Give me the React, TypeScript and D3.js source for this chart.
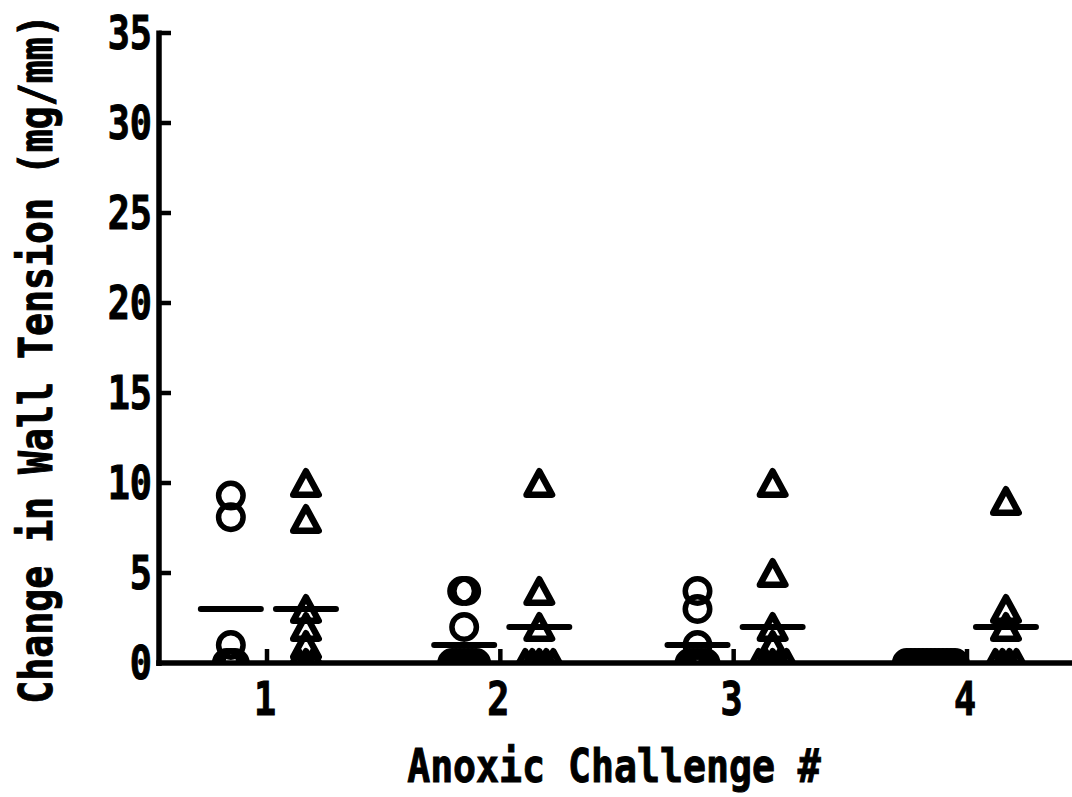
import React from "react";
import * as d3 from "d3";

const categories = [1, 2, 3, 4];
const circleValues = [
  [9.3, 8.1, 1, 0, 0, 0],
  [4, 4, 2, 0, 0, 0, 0, 0, 0, 0],
  [4, 3, 1, 0, 0, 0, 0, 0],
  [0, 0, 0, 0, 0, 0, 0, 0, 0, 0, 0, 0, 0],
];
const triangleValues = [
  [10, 8, 3, 2, 1, 0, 0, 0],
  [10, 4, 2, 0, 0, 0, 0, 0],
  [10, 5, 2, 1, 0, 0, 0, 0, 0],
  [9, 3, 2, 0, 0, 0, 0],
];
const circleMeans = [3, 1, 1, 0];
const triangleMeans = [3, 2, 2, 2];
const yTicks = [0, 5, 10, 15, 20, 25, 30, 35];
const xTitle = "Anoxic Challenge #";
const yTitle = "Change in Wall Tension (mg/mm)";

const W = 1072;
const H = 797;
const FONT = "'DejaVu Sans Mono', monospace";

function spread(values: number[], step: number): number[] {
  const counts = new Map<number, number>();
  values.forEach((v) => counts.set(v, (counts.get(v) || 0) + 1));
  const seen = new Map<number, number>();
  return values.map((v) => {
    const n = counts.get(v) || 1;
    const k = seen.get(v) || 0;
    seen.set(v, k + 1);
    return (k - (n - 1) / 2) * step;
  });
}

export default function App() {
  const x = d3.scaleLinear().domain([1, 4]).range([267, 967]);
  const y = d3.scaleLinear().domain([0, 35]).range([663, 33]);
  const axisX = 159;
  const y0 = y(0);
  const circOff = -0.155;
  const triOff = 0.167;
  const triW = 25.5;
  const triH = 23.5;
  const triPath = `M0,${-triH / 2}L${triW / 2},${triH / 2}L${-triW / 2},${triH / 2}Z`;
  const meanHalf = 30;
  const textProps = {
    fontFamily: FONT,
    fontWeight: "bold" as const,
    fontSize: 46,
    fill: "#000",
    stroke: "#000",
    strokeWidth: 1,
  };

  return (
    <svg
      width={W}
      height={H}
      style={{ position: "absolute", left: 0, top: 0, background: "#fff" }}
    >
      <defs>
        <clipPath id="plotClip">
          <rect x={0} y={0} width={W} height={y0} />
        </clipPath>
      </defs>
      <rect x={0} y={0} width={W} height={H} fill="#fff" />
      <g clipPath="url(#plotClip)">
        {categories.map((c, ci) => {
          const cx = x(c + circOff);
          const offs = spread(circleValues[ci], 4);
          return (
            <g key={"c" + ci}>
              {circleValues[ci].map((v, i) => (
                <circle
                  key={i}
                  cx={cx + offs[i]}
                  cy={y(v)}
                  r={12.25}
                  fill="none"
                  stroke="#000"
                  strokeWidth={5.5}
                />
              ))}
              <line
                x1={cx - meanHalf}
                x2={cx + meanHalf}
                y1={y(circleMeans[ci])}
                y2={y(circleMeans[ci])}
                stroke="#000"
                strokeWidth={6}
                strokeLinecap="round"
              />
            </g>
          );
        })}
        {categories.map((c, ci) => {
          const tx = x(c + triOff);
          const offs = spread(triangleValues[ci], 7);
          return (
            <g key={"t" + ci}>
              {triangleValues[ci].map((v, i) => (
                <path
                  key={i}
                  d={triPath}
                  transform={`translate(${tx + offs[i]},${y(v)})`}
                  fill="none"
                  stroke="#000"
                  strokeWidth={6.5}
                  strokeLinejoin="round"
                />
              ))}
              <line
                x1={tx - meanHalf}
                x2={tx + meanHalf}
                y1={y(triangleMeans[ci])}
                y2={y(triangleMeans[ci])}
                stroke="#000"
                strokeWidth={6}
                strokeLinecap="round"
              />
            </g>
          );
        })}
      </g>
      {/* axes */}
      <line x1={axisX} x2={axisX} y1={y(35) - 2.5} y2={y0 + 3} stroke="#000" strokeWidth={5.5} />
      <line x1={axisX - 2.75} x2={W + 5} y1={y0} y2={y0} stroke="#000" strokeWidth={5.5} />
      {yTicks.map((t) => (
        <g key={"yt" + t}>
          {t > 0 && (
            <line x1={axisX} x2={axisX + 12} y1={y(t)} y2={y(t)} stroke="#000" strokeWidth={4.5} />
          )}
          <text
            transform={`translate(152,${y(t) + 16}) scale(0.8,1)`}
            textAnchor="end"
            {...textProps}
          >
            {t}
          </text>
        </g>
      ))}
      {categories.map((c) => (
        <g key={"xt" + c}>
          <line x1={x(c)} x2={x(c)} y1={y0} y2={y0 - 14} stroke="#000" strokeWidth={4.5} />
          <text
            transform={`translate(${x(c) - 2},${715}) scale(0.8,1)`}
            textAnchor="middle"
            {...textProps}
          >
            {c}
          </text>
        </g>
      ))}
      <text
        transform={`translate(614,782) scale(0.83,1)`}
        textAnchor="middle"
        {...textProps}
      >
        {xTitle}
      </text>
      <text
        transform={`translate(52,359) rotate(-90) scale(0.83,1)`}
        textAnchor="middle"
        {...textProps}
      >
        {yTitle}
      </text>
    </svg>
  );
}
